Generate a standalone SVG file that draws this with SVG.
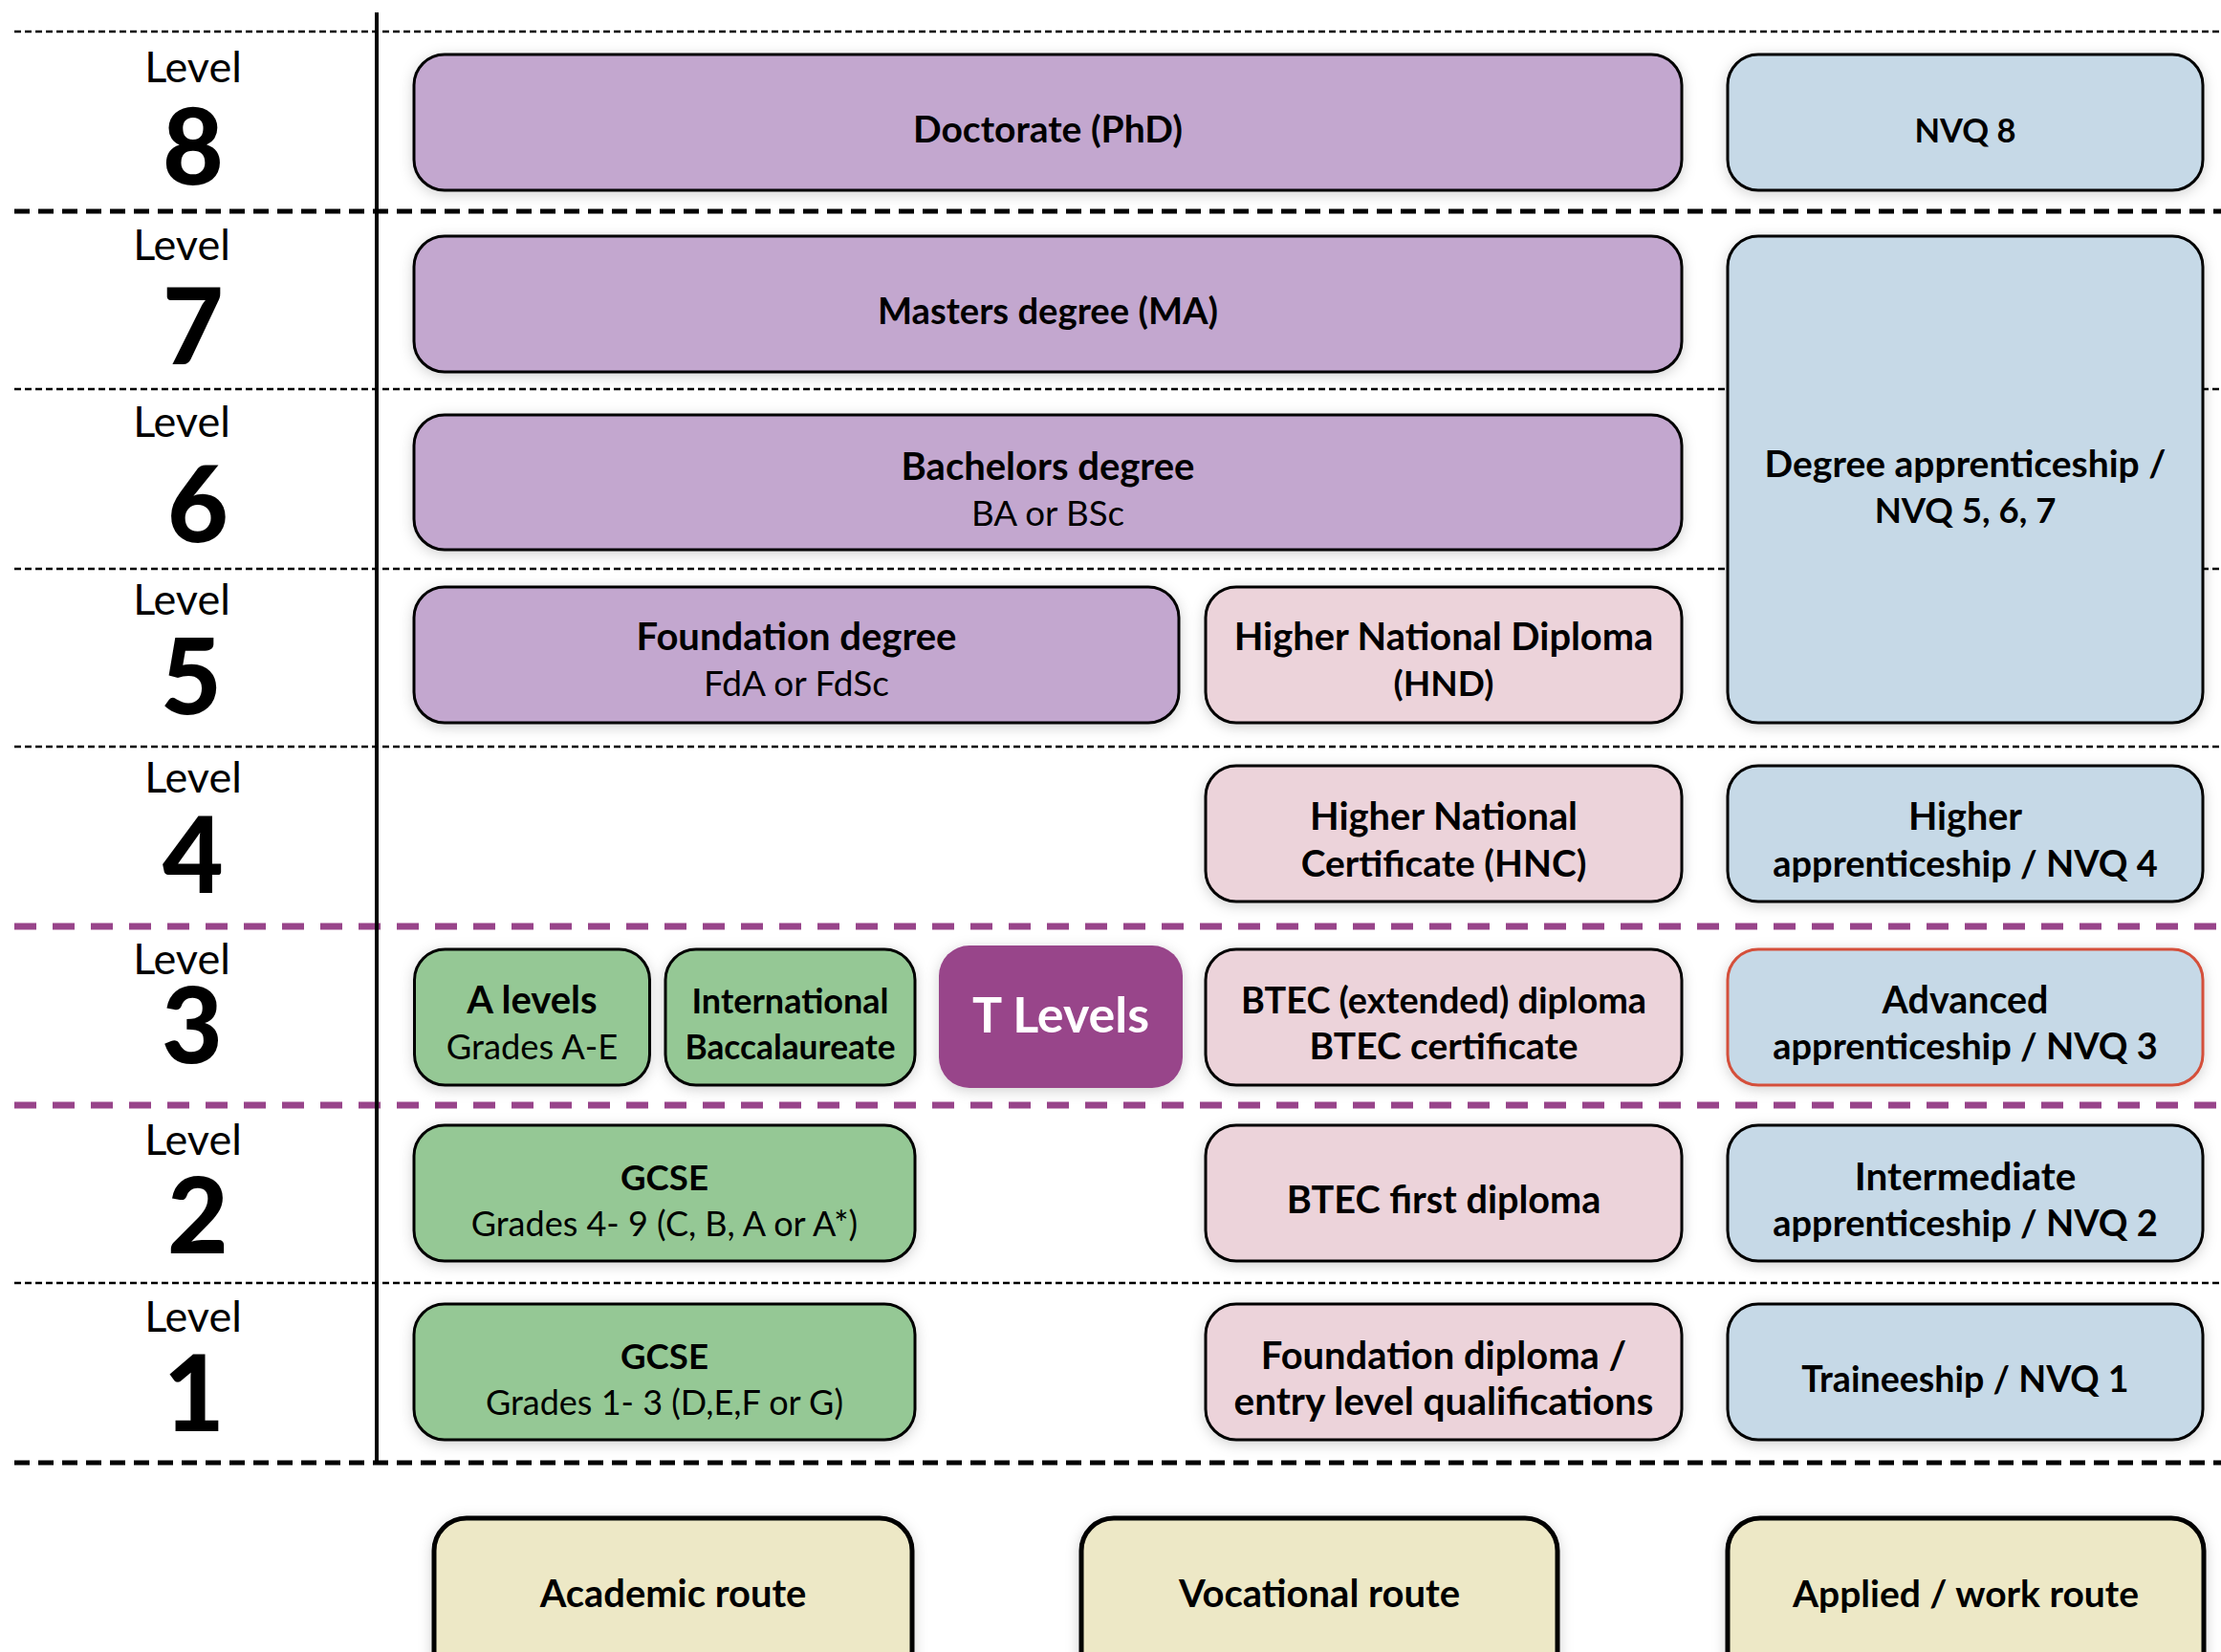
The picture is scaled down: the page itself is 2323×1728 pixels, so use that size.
<svg xmlns="http://www.w3.org/2000/svg" width="2323" height="1728" viewBox="0 0 2323 1728">
<defs>
<filter id="sh" x="-10%" y="-20%" width="120%" height="140%">
<feDropShadow dx="0" dy="3" stdDeviation="7" flood-color="#000" flood-opacity="0.18"/>
</filter>
<style>
.box{stroke:#000;stroke-width:3;filter:url(#sh)}
.pu{fill:#c3a7cf}.bl{fill:#c6d9e7}.pk{fill:#ecd3da}.gr{fill:#95c895}.ye{fill:#ede8c6;stroke-width:5}
.t{font-family:Lato,"Liberation Sans",sans-serif;font-size:39px;font-weight:700;text-anchor:middle;fill:#000}
.r{font-weight:400}
.lv{font-family:Lato,"Liberation Sans",sans-serif;font-size:45px;text-anchor:middle;fill:#000}
.num{font-size:110px;font-weight:900}
.thin{stroke:#000;stroke-width:2.5;stroke-dasharray:7 4;fill:none}
.thick{stroke:#000;stroke-width:5;stroke-dasharray:16 9;fill:none}
.purp{stroke:#98448a;stroke-width:7;stroke-dasharray:23 17;fill:none}
</style>
</defs>
<rect width="2323" height="1728" fill="#fff"/>
<g id="grid">
<line class="thin" x1="15" y1="33" x2="2323" y2="33"/>
<line class="thick" x1="15" y1="221" x2="2323" y2="221"/>
<line class="thin" x1="15" y1="407" x2="2323" y2="407"/>
<line class="thin" x1="15" y1="595" x2="2323" y2="595"/>
<line class="thin" x1="15" y1="781" x2="2323" y2="781"/>
<line class="purp" x1="15" y1="969" x2="2323" y2="969"/>
<line class="purp" x1="15" y1="1156" x2="2323" y2="1156"/>
<line class="thin" x1="15" y1="1342" x2="2323" y2="1342"/>
<line class="thick" x1="15" y1="1530" x2="2323" y2="1530"/>
<line x1="394" y1="13" x2="394" y2="1532" stroke="#000" stroke-width="4"/>
</g>
<g id="levels">
<text class="lv" x="202" y="86">Level<tspan class="num" x="202" y="193">8</tspan></text>
<text class="lv" x="190" y="272">Level<tspan class="num" x="202" y="381">7</tspan></text>
<text class="lv" x="190" y="457">Level<tspan class="num" x="207" y="567">6</tspan></text>
<text class="lv" x="190" y="643">Level<tspan class="num" x="200" y="747">5</tspan></text>
<text class="lv" x="202" y="829">Level<tspan class="num" x="202" y="934">4</tspan></text>
<text class="lv" x="190" y="1019">Level<tspan class="num" x="201" y="1112">3</tspan></text>
<text class="lv" x="202" y="1208">Level<tspan class="num" x="207" y="1311">2</tspan></text>
<text class="lv" x="202" y="1393">Level<tspan class="num" x="203" y="1497">1</tspan></text>
</g>
<g id="doctorate"><rect class="box pu" x="433" y="57" width="1326" height="142" rx="32"/><text class="t" x="1096" y="149">Doctorate (PhD)</text></g>
<g id="nvq8"><rect class="box bl" x="1807" y="57" width="497" height="142" rx="32"/><text class="t" x="2055.5" y="149" style="font-size:34.5px">NVQ 8</text></g>
<g id="masters"><rect class="box pu" x="433" y="247" width="1326" height="142" rx="32"/><text class="t" x="1096" y="339" style="font-size:38.2px">Masters degree (MA)</text></g>
<g id="bachelors"><rect class="box pu" x="433" y="434" width="1326" height="141" rx="32"/><text class="t" x="1096" y="502" style="font-size:40px">Bachelors degree<tspan class="r" x="1096" y="550" style="font-size:36.7px">BA or BSc</tspan></text></g>
<g id="degree-apprenticeship"><rect class="box bl" x="1807" y="247" width="497" height="509" rx="32"/><text class="t" x="2055.5" y="499">Degree apprenticeship /<tspan x="2055.5" y="547" style="font-size:36.6px">NVQ 5, 6, 7</tspan></text></g>
<g id="foundation-degree"><rect class="box pu" x="433" y="614" width="800" height="142" rx="32"/><text class="t" x="833" y="680" style="font-size:40px">Foundation degree<tspan class="r" x="833" y="728" style="font-size:37px">FdA or FdSc</tspan></text></g>
<g id="hnd"><rect class="box pk" x="1261" y="614" width="498" height="142" rx="32"/><text class="t" x="1510" y="680" style="font-size:39.8px">Higher National Diploma<tspan x="1510" y="728" style="font-size:37px">(HND)</tspan></text></g>
<g id="hnc"><rect class="box pk" x="1261" y="801" width="498" height="142" rx="32"/><text class="t" x="1510" y="868" style="font-size:39.8px">Higher National<tspan x="1510" y="917" style="font-size:38.9px">Certificate (HNC)</tspan></text></g>
<g id="higher-apprenticeship"><rect class="box bl" x="1807" y="801" width="497" height="142" rx="32"/><text class="t" x="2055.5" y="868" style="font-size:39.5px">Higher<tspan x="2055.5" y="917" style="font-size:38px">apprenticeship / NVQ 4</tspan></text></g>
<g id="a-levels"><rect class="box gr" x="433.5" y="993" width="246" height="142" rx="32"/><text class="t" x="556.5" y="1060" style="font-size:40px">A levels<tspan class="r" x="556.5" y="1108" style="font-size:36.3px">Grades A-E</tspan></text></g>
<g id="ib"><rect class="box gr" x="696" y="993" width="261" height="142" rx="32"/><text class="t" x="826.5" y="1060" style="font-size:36px">International<tspan x="826.5" y="1108" style="font-size:35.3px">Baccalaureate</tspan></text></g>
<g id="t-levels"><rect x="982" y="989" width="255" height="149" rx="32" fill="#98448a" filter="url(#sh)"/><text class="t" x="1109.5" y="1080" style="font-size:52px;fill:#fff">T Levels</text></g>
<g id="btec-diploma"><rect class="box pk" x="1261" y="993" width="498" height="142" rx="32"/><text class="t" x="1510" y="1060" style="font-size:37.8px">BTEC (extended) diploma<tspan x="1510" y="1108" style="font-size:38.9px">BTEC certificate</tspan></text></g>
<g id="advanced-apprenticeship"><rect class="box bl" x="1807" y="993" width="497" height="142" rx="32" style="stroke:#d4503a"/><text class="t" x="2055.5" y="1060" style="font-size:39.4px">Advanced<tspan x="2055.5" y="1108" style="font-size:38px">apprenticeship / NVQ 3</tspan></text></g>
<g id="gcse-2"><rect class="box gr" x="433" y="1177" width="524" height="142" rx="32"/><text class="t" x="695" y="1245" style="font-size:36.6px">GCSE<tspan class="r" x="695" y="1293" style="font-size:36px">Grades 4- 9 (C, B, A or A*)</tspan></text></g>
<g id="btec-first"><rect class="box pk" x="1261" y="1177" width="498" height="142" rx="32"/><text class="t" x="1510" y="1269" style="font-size:39.6px">BTEC first diploma</text></g>
<g id="intermediate-apprenticeship"><rect class="box bl" x="1807" y="1177" width="497" height="142" rx="32"/><text class="t" x="2055.5" y="1245" style="font-size:40.5px">Intermediate<tspan x="2055.5" y="1293" style="font-size:38px">apprenticeship / NVQ 2</tspan></text></g>
<g id="gcse-1"><rect class="box gr" x="433" y="1364" width="524" height="142" rx="32"/><text class="t" x="695" y="1432" style="font-size:36.6px">GCSE<tspan class="r" x="695" y="1480" style="font-size:36px">Grades 1- 3 (D,E,F or G)</tspan></text></g>
<g id="foundation-diploma"><rect class="box pk" x="1261" y="1364" width="498" height="142" rx="32"/><text class="t" x="1510" y="1432" style="font-size:39.9px">Foundation diploma /<tspan x="1510" y="1480" style="font-size:40.5px">entry level qualifications</tspan></text></g>
<g id="traineeship"><rect class="box bl" x="1807" y="1364" width="497" height="142" rx="32"/><text class="t" x="2055.5" y="1456" style="font-size:37.6px">Traineeship / NVQ 1</text></g>
<g id="academic-route"><rect class="box ye" x="454" y="1588" width="500" height="180" rx="34"/><text class="t" x="704" y="1681" style="font-size:39.9px">Academic route</text></g>
<g id="vocational-route"><rect class="box ye" x="1131" y="1588" width="498" height="180" rx="34"/><text class="t" x="1380" y="1681" style="font-size:40px">Vocational route</text></g>
<g id="applied-route"><rect class="box ye" x="1807" y="1588" width="498" height="180" rx="34"/><text class="t" x="2056" y="1681">Applied / work route</text></g>
<g id="connectors"></g>
</svg>
